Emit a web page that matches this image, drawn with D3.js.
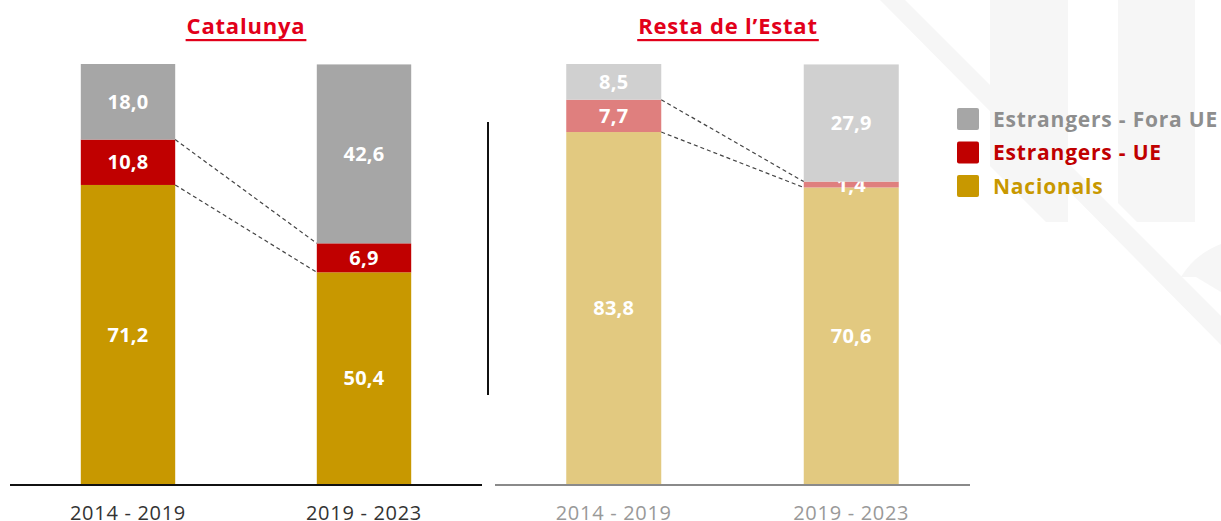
<!DOCTYPE html>
<html>
<head>
<meta charset="utf-8">
<style>
  body { margin: 0; background: #fff; }
  svg { display: block; font-family: "Open Sans", "DejaVu Sans", sans-serif; }
</style>
</head>
<body>
<div id="chart"></div>
<script src="https://cdn.jsdelivr.net/npm/d3@7"></script>
<script>
// data
var periods = ["2014 - 2019", "2019 - 2023"];
var seriesNames = ["Nacionals", "Estrangers - UE", "Estrangers - Fora UE"];
var catNacionals = [71.2, 50.4];
var catUE = [10.8, 6.9];
var catForaUE = [18.0, 42.6];
var restNacionals = [83.8, 70.6];
var restUE = [7.7, 1.4];
var restForaUE = [8.5, 27.9];

var W = 1221, H = 521;
var svg = d3.select("#chart").append("svg")
    .attr("width", W).attr("height", H);

// faint background watermark
var wm = svg.append("g").attr("fill", "#f6f6f6");
wm.append("path").attr("d", "M880,0 L905,0 L1221,316 L1221,345 Z");
wm.append("path").attr("d", "M990,0 L1068,0 L1068,222 L1046,222 L990,166 Z");
wm.append("path").attr("d", "M1118,0 L1195,0 L1195,222 L1137,222 L1118,203 Z");
wm.append("path").attr("d", "M1181,277 Q1195,254 1221,244 L1221,292 L1196,277 Z");

var y = d3.scaleLinear().domain([0, 100]).range([484, 64]);

var panels = [
  { title: "Catalunya", range: [10, 482], data: [catNacionals, catUE, catForaUE],
    colors: ["#c89800", "#c00000", "#a6a6a6"], axisColor: "#111", labelColor: "#333", titleX: 246 },
  { title: "Resta de l\u2019Estat", range: [495, 970], data: [restNacionals, restUE, restForaUE],
    colors: ["#e2c980", "#df7f7e", "#d0d0d0"], axisColor: "#8a8a8a", labelColor: "#999", titleX: 728 }
];

panels.forEach(function(p) {
  var x = d3.scaleBand().domain(periods).range(p.range)
      .paddingInner(0.6).paddingOuter(0.3);

  var rows = periods.map(function(per, i) {
    var r = { period: per };
    seriesNames.forEach(function(s, k) { r[s] = p.data[k][i]; });
    return r;
  });
  var stacked = d3.stack().keys(seriesNames)(rows);

  var g = svg.append("g");

  stacked.forEach(function(layer, k) {
    g.selectAll(null).data(layer).enter().append("rect")
      .attr("x", function(d) { return x(d.data.period); })
      .attr("y", function(d) { return y(d[1]); })
      .attr("width", x.bandwidth())
      .attr("height", function(d) { return y(d[0]) - y(d[1]); })
      .attr("fill", p.colors[k]);

    g.selectAll(null).data(layer).enter().append("text")
      .attr("x", function(d) { return x(d.data.period) + x.bandwidth() / 2; })
      .attr("y", function(d) { return (y(d[0]) + y(d[1])) / 2; })
      .attr("dy", "0.36em")
      .attr("text-anchor", "middle")
      .attr("fill", "#fff")
      .attr("font-size", 20)
      .attr("font-weight", 700)
      .attr("letter-spacing", 0.3)
      .text(function(d) { return d3.format(".1f")(d[1] - d[0]).replace(".", ","); });
  });

  // dashed connectors (top of Nacionals and top of UE)
  [0, 1].forEach(function(k) {
    var a = stacked[k][0], b = stacked[k][1];
    g.append("line")
      .attr("x1", x(periods[0]) + x.bandwidth()).attr("y1", y(a[1]))
      .attr("x2", x(periods[1])).attr("y2", y(b[1]))
      .attr("stroke", "#444").attr("stroke-width", 1.2)
      .attr("stroke-dasharray", "4,3");
  });

  // baseline
  g.append("line")
    .attr("x1", p.range[0]).attr("x2", p.range[1])
    .attr("y1", y(0) + 1).attr("y2", y(0) + 1)
    .attr("stroke", p.axisColor).attr("stroke-width", 2);

  // category labels
  g.selectAll(null).data(periods).enter().append("text")
    .attr("x", function(d) { return x(d) + x.bandwidth() / 2; })
    .attr("y", 520)
    .attr("text-anchor", "middle")
    .attr("fill", p.labelColor)
    .attr("font-size", 20)
    .attr("font-weight", 400)
    .attr("letter-spacing", 0.7)
    .text(function(d) { return d; });

  // title
  var t = svg.append("text")
    .attr("x", p.titleX).attr("y", 34)
    .attr("text-anchor", "middle")
    .attr("fill", "#e2001a")
    .attr("font-size", 22)
    .attr("font-weight", 700)
    .attr("letter-spacing", 0.8)
    .text(p.title);
  var bb = t.node().getBBox();
  svg.append("rect")
    .attr("x", bb.x - 1).attr("y", 39)
    .attr("width", bb.width + 2).attr("height", 2.2)
    .attr("fill", "#e2001a");
});

// divider
svg.append("line")
  .attr("x1", 488).attr("x2", 488).attr("y1", 122).attr("y2", 395)
  .attr("stroke", "#111").attr("stroke-width", 2);

// legend
var legendItems = [
  { name: "Estrangers - Fora UE", fill: "#a6a6a6", text: "#8e8e8e" },
  { name: "Estrangers - UE", fill: "#c00000", text: "#c00000" },
  { name: "Nacionals", fill: "#c89800", text: "#c89800" }
];
var lg = svg.append("g").attr("transform", "translate(957,108)");
var li = lg.selectAll("g").data(legendItems).enter().append("g")
  .attr("transform", function(d, i) { return "translate(0," + (i * 33.5) + ")"; });
li.append("rect").attr("width", 22).attr("height", 22).attr("rx", 2)
  .attr("fill", function(d) { return d.fill; });
li.append("text").attr("x", 36).attr("y", 11).attr("dy", "0.36em")
  .attr("font-size", 21).attr("font-weight", 700)
  .attr("letter-spacing", 0.8)
  .attr("fill", function(d) { return d.text; })
  .text(function(d) { return d.name; });
</script>
</body>
</html>
